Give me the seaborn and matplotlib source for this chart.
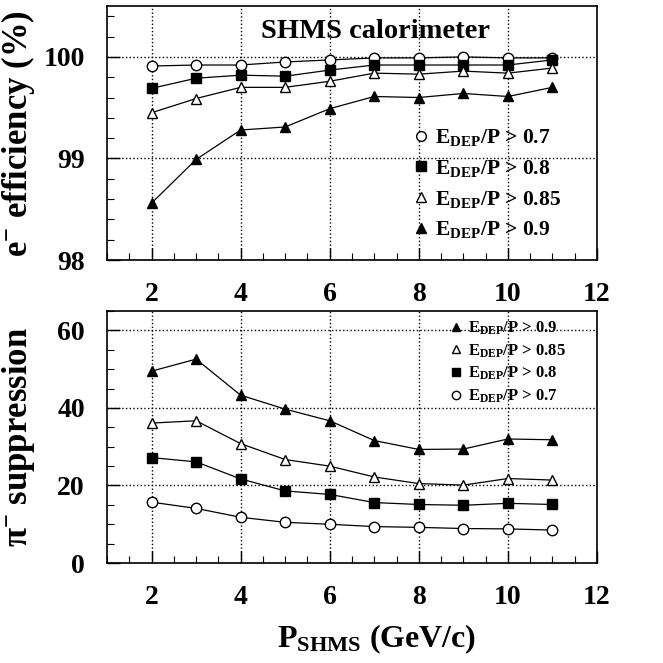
import numpy as np
import pandas as pd
import matplotlib
matplotlib.use("Agg")
import matplotlib.pyplot as plt
from matplotlib.ticker import MultipleLocator
import seaborn as sns

# momentum points (GeV/c)
p_shms = [2, 3, 4, 5, 6, 7, 8, 9, 10, 11]

# e- efficiency (%) for each E_DEP/P cut
eff_07 = [99.91, 99.92, 99.92, 99.95, 99.97, 99.99, 99.99, 100.0, 99.99, 99.99]
eff_08 = [99.69, 99.79, 99.82, 99.81, 99.87, 99.92, 99.92, 99.92, 99.92, 99.97]
eff_085 = [99.45, 99.59, 99.70, 99.70, 99.76, 99.84, 99.83, 99.86, 99.84, 99.89]
eff_09 = [98.56, 98.99, 99.28, 99.31, 99.49, 99.61, 99.60, 99.64, 99.61, 99.70]

# pi- suppression for each cut
sup_09 = [49.5, 52.6, 43.3, 39.7, 36.7, 31.6, 29.3, 29.4, 32.0, 31.8]
sup_085 = [36.1, 36.7, 30.8, 26.7, 25.0, 22.2, 20.5, 20.1, 21.8, 21.4]
sup_08 = [27.2, 26.1, 21.7, 18.6, 17.7, 15.6, 15.1, 14.9, 15.4, 15.1]
sup_07 = [15.7, 14.1, 11.8, 10.5, 10.0, 9.4, 9.2, 8.9, 8.8, 8.5]

cut_labels = ['0.7', '0.8', '0.85', '0.9']

sns.set_theme(style="white")
plt.rcParams['font.family'] = ['Liberation Serif', 'DejaVu Serif']
plt.rcParams['font.weight'] = 'bold'
plt.rcParams['text.color'] = 'black'
plt.rcParams['axes.labelcolor'] = 'black'
plt.rcParams['xtick.color'] = 'black'
plt.rcParams['ytick.color'] = 'black'
plt.rcParams['mathtext.fontset'] = 'custom'
plt.rcParams['mathtext.rm'] = 'Liberation Serif:bold'
plt.rcParams['mathtext.it'] = 'Liberation Serif:bold'
plt.rcParams['mathtext.bf'] = 'Liberation Serif:bold'

fig = plt.figure(figsize=(6.63, 6.63), dpi=100)
ax1 = fig.add_axes([0.1614, 0.6078, 0.739, 0.383])
ax2 = fig.add_axes([0.1614, 0.1508, 0.739, 0.380])

# marker style per cut: (marker, filled)
styles = {'0.7': ('o', False), '0.8': ('s', True), '0.85': ('^', False), '0.9': ('^', True)}


def draw(ax, series, order, leg_ms):
    handles = []
    for cut in order:
        vals = series[cut]
        df = pd.DataFrame({'p': p_shms, 'v': vals})
        mk, filled = styles[cut]
        sns.lineplot(data=df, x='p', y='v', ax=ax, color='black', lw=0.9,
                     marker=mk, markersize=7.5,
                     mfc='black' if filled else 'white', mec='black', mew=1.0,
                     zorder=3)
        h, = ax.plot([], [], ls='none', marker=mk, color='black',
                     mfc='black' if filled else 'white', mec='black',
                     markersize=leg_ms)
        h.set_label('E$_{\\mathrm{DEP}}$/P > ' + cut)
        handles.append(h)
    return handles


def style_axes(ax, ylim, ymajor, yminor):
    ax.set_xlim(1, 12)
    ax.set_ylim(*ylim)
    ax.xaxis.set_major_locator(MultipleLocator(2))
    ax.xaxis.set_minor_locator(MultipleLocator(0.5))
    ax.yaxis.set_major_locator(MultipleLocator(ymajor))
    ax.yaxis.set_minor_locator(MultipleLocator(yminor))
    ax.tick_params(which='both', direction='in', bottom=True, left=True,
                   top=False, right=False, colors='black')
    ax.tick_params(which='major', length=9, width=1.0, labelsize=20, pad=16)
    ax.tick_params(which='minor', length=5, width=0.8)
    ax.grid(True, which='major', ls=':', color='black', lw=1.0)
    for sp in ax.spines.values():
        sp.set_color('black')
        sp.set_linewidth(1.2)
    for lab in ax.get_xticklabels() + ax.get_yticklabels():
        lab.set_fontweight('bold')
    ax.set_xlabel('')


# top: efficiency
eff = {'0.7': eff_07, '0.8': eff_08, '0.85': eff_085, '0.9': eff_09}
h1 = draw(ax1, eff, cut_labels, 7)
style_axes(ax1, (98, 100.5), 1, 0.2)
ax1.yaxis.set_major_formatter(matplotlib.ticker.FormatStrFormatter('%d'))
ax1.set_ylabel('e$^{-}$ efficiency (%)', fontsize=25, fontweight='bold')
ax1.yaxis.set_label_coords(-0.143, 0.5)
ax1.text(0.547, 0.9, 'SHMS calorimeter', transform=ax1.transAxes,
         ha='center', va='center', fontsize=20.5, fontweight='bold')
ax1.legend(handles=h1, loc='lower left', bbox_to_anchor=(0.605, 0.035),
           frameon=False, fontsize=15.5, handlelength=0.6, handletextpad=0.35,
           labelspacing=0.45, borderpad=0)

# bottom: pion suppression
sup = {'0.7': sup_07, '0.8': sup_08, '0.85': sup_085, '0.9': sup_09}
h2 = draw(ax2, sup, cut_labels[::-1], 6)
style_axes(ax2, (0, 65), 20, 5)
ax2.set_ylabel('π$^{-}$ suppression', fontsize=25, fontweight='bold')
ax2.yaxis.set_label_coords(-0.143, 0.5)
ax2.set_xlabel('P$_{\\mathrm{SHMS}}$ (GeV/c)', fontsize=23, fontweight='bold')
ax2.xaxis.set_label_coords(0.551, -0.235)
ax2.legend(handles=h2, loc='upper left', bbox_to_anchor=(0.685, 1.0),
           frameon=False, fontsize=12, handlelength=0.6, handletextpad=0.45,
           labelspacing=0.32, borderpad=0)

fig.savefig('out.png', dpi=100)
